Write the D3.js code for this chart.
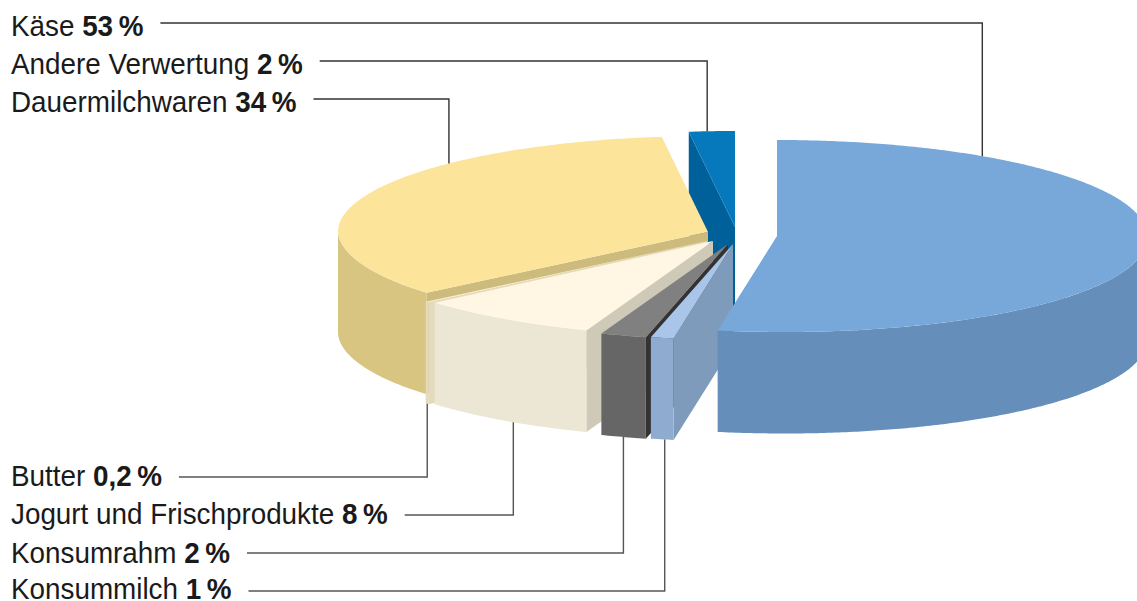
<!DOCTYPE html>
<html>
<head>
<meta charset="utf-8">
<script src="https://cdn.jsdelivr.net/npm/d3@7"></script>
<style>
html, body { margin: 0; background: #fff; overflow: hidden; }
text { font-family: "Liberation Sans", sans-serif; font-size: 29px; fill: #1a1a1a; }
</style>
</head>
<body>
<div id="pie"></div>
<script>
// clockwise from 12 o'clock
let categories = ["Käse", "Konsummilch", "Konsumrahm", "Jogurt und Frischprodukte", "Butter", "Dauermilchwaren", "Andere Verwertung"];
let shares = [53, 1, 2, 8, 0.2, 34, 2];
let shareLabels = ["53\u202f%", "1\u202f%", "2\u202f%", "8\u202f%", "0,2\u202f%", "34\u202f%", "2\u202f%"];

let topColors = ["#78a8d9", "#a9c6ea", "#808080", "#fff7e3", "#f4ebcc", "#fde49b", "#0679bd"];
let wallColors = ["#658ebb", "#8facd0", "#666666", "#ece6d5", "#e3dbbb", "#d9c582", "#00619a"];
let sideColors = ["#658ebb", "#7f9bbb", "#333333", "#cfc9b8", "#e3dbbb", "#cdbb7d", "#00619a"];

// where each exploded wedge has its tip
let tips = [[777, 236], [733, 244], [728, 244], [713, 241], [707, 241], [708, 232], [735, 227]];
// rows of the labels and leaders, and how far along the wedge the leader lands
let baselineY = [36, 599, 563, 524, 486, 112, 74];
let lineY = [23, 591, 553, 515, 477, 99, 61];
let leaderAt = [0.177, 0.39, 0.5, 0.44, 0.5, 0.695, 0.4];

let width = 1137,
    height = 601,
    rx = 370,
    ry = 96,
    depth = 101.5,
    lean = 0.08,
    squeeze = 0.96;

let svg = d3.select("#pie")
    .append("svg")
    .attr("width", width)
    .attr("height", height)
    .style("display", "block");

let slices = d3.pie().sort(null).value(d => d)(shares);

// angle on the pie -> screen, the front of the pie leans a bit to the right
function project(i, a, drop) {
    let x = rx * Math.sin(a);
    let y = -ry * Math.cos(a);
    return [tips[i][0] + x + lean * Math.max(0, y), tips[i][1] + y + (drop || 0)];
}

function rim(i, a0, a1, drop) {
    let n = Math.max(2, Math.ceil((a1 - a0) / 0.01));
    return d3.range(n + 1).map(k => project(i, a0 + (a1 - a0) * k / n, drop));
}

let line = d3.line();

// back to front, Käse goes last because its wall covers the small wedges
let order = [6, 5, 4, 3, 2, 1, 0];

order.forEach(i => {
    let s = slices[i];
    let g = svg.append("g").attr("class", "slice");
    let tip = tips[i];
    let t = [tip[0], tip[1]];
    let tb = [tip[0], tip[1] + depth];

    // radial wall, only the one facing the viewer
    if (Math.sin(s.startAngle) < -1e-6) {
        let p = project(i, s.startAngle);
        let pb = project(i, s.startAngle, depth);
        g.append("path").attr("d", line([t, p, pb, tb]) + "Z").attr("fill", sideColors[i]);
    }

    // outer wall, front half of the rim only
    let a0 = Math.max(s.startAngle, Math.PI / 2);
    let a1 = Math.min(s.endAngle, Math.PI * 1.5);
    if (a1 > a0) {
        let upper = rim(i, a0, a1);
        let lower = rim(i, a0, a1, depth).reverse();
        g.append("path").attr("d", line(upper.concat(lower)) + "Z").attr("fill", wallColors[i]);
    }

    // top face
    g.append("path")
        .attr("d", line([t].concat(rim(i, s.startAngle, s.endAngle))) + "Z")
        .attr("fill", topColors[i]);
});

// labels and leaders
categories.forEach((c, i) => {
    let s = slices[i];
    let a = s.startAngle + (s.endAngle - s.startAngle) * leaderAt[i];
    let front = Math.cos(a) < 0;
    let end = project(i, a, front ? depth : 0);

    let label = svg.append("text")
        .attr("transform", "translate(11," + baselineY[i] + ") scale(" + squeeze + ",1)");
    label.append("tspan").text(c + " ");
    label.append("tspan").attr("font-weight", "bold").text(shareLabels[i]);

    let startX = 11 + label.node().getComputedTextLength() * squeeze + 17;
    svg.insert("path", "text")
        .attr("d", line([[startX, lineY[i]], [end[0], lineY[i]], end]))
        .attr("fill", "none")
        .attr("stroke", i == 0 || i == 5 || i == 6 ? "#333" : "#555")
        .attr("stroke-width", 1.4);
});
</script>
</body>
</html>
